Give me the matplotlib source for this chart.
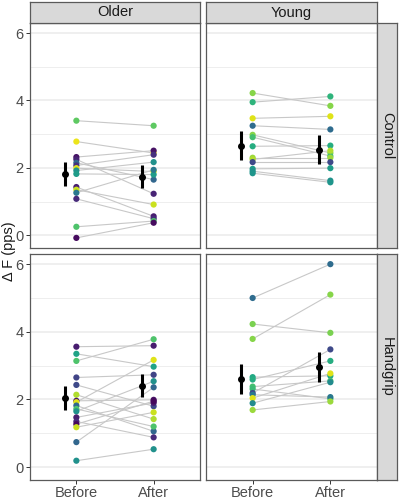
import matplotlib
matplotlib.use("Agg")
import matplotlib.pyplot as plt
import numpy as np

plt.rcParams['font.family'] = ['Liberation Sans', 'DejaVu Sans']

ages = ["Older", "Young"]
conditions = ["Control", "Handgrip"]
time_labels = ["Before", "After"]

# Older / Control
oc_before = [3.40, 2.78, 2.32, 2.25, 2.15, 2.07, 1.99, 1.92, 1.82, 1.43, 1.35, 1.26, 1.08, 0.25, -0.08]
oc_after  = [3.25, 2.44, 2.51, 1.23, 1.65, 2.39, 1.89, 2.17, 1.80, 0.56, 0.91, 1.94, 0.49, 0.42, 0.37]
oc_color  = [0.75, 0.97, 0.05, 0.10, 0.33, 0.14, 0.95, 0.50, 0.55, 0.08, 0.92, 0.40, 0.12, 0.72, 0.03]
# Young / Control
yc_before = [4.22, 3.95, 3.47, 3.25, 2.98, 2.91, 2.64, 2.30, 2.25, 2.17, 1.97, 1.90, 1.84]
yc_after  = [3.84, 4.12, 3.53, 3.14, 2.44, 2.35, 2.66, 2.30, 2.51, 2.17, 1.99, 1.62, 1.57]
yc_color  = [0.82, 0.65, 0.95, 0.35, 0.82, 0.70, 0.62, 0.85, 0.88, 0.22, 0.55, 0.50, 0.52]
# Older / Handgrip
oh_before = [3.56, 3.35, 3.14, 2.65, 2.43, 2.14, 1.96, 1.92, 1.82, 1.72, 1.65, 1.47, 1.35, 1.27, 1.18, 0.74, 0.19]
oh_after  = [3.59, 2.97, 3.78, 2.73, 1.80, 1.42, 1.99, 3.17, 1.06, 1.20, 2.54, 1.90, 0.88, 1.95, 1.62, 2.36, 0.53]
oh_color  = [0.08, 0.58, 0.72, 0.20, 0.22, 0.88, 0.05, 0.95, 0.33, 0.72, 0.50, 0.08, 0.12, 0.02, 0.92, 0.33, 0.50]
# Young / Handgrip
yh_before = [5.00, 4.23, 3.79, 2.66, 2.59, 2.38, 2.31, 2.19, 2.14, 2.04, 1.89, 1.69]
yh_after  = [6.00, 3.97, 5.10, 2.70, 3.14, 2.55, 2.02, 3.48, 2.07, 2.77, 2.51, 1.94]
yh_color  = [0.35, 0.80, 0.82, 0.60, 0.62, 0.70, 0.68, 0.22, 0.40, 0.95, 0.48, 0.85]

# group means and error bar half-widths (Before, After)
oc_mean = [1.82, 1.74]; oc_err = [0.35, 0.35]
yc_mean = [2.66, 2.54]; yc_err = [0.42, 0.44]
oh_mean = [2.04, 2.41]; oh_err = [0.36, 0.35]
yh_mean = [2.61, 2.96]; yh_err = [0.44, 0.43]

panels = {
    ("Older", "Control"): (oc_before, oc_after, oc_color, oc_mean, oc_err),
    ("Young", "Control"): (yc_before, yc_after, yc_color, yc_mean, yc_err),
    ("Older", "Handgrip"): (oh_before, oh_after, oh_color, oh_mean, oh_err),
    ("Young", "Handgrip"): (yh_before, yh_after, yh_color, yh_mean, yh_err),
}

W, H = 400, 499
fig = plt.figure(figsize=(W / 100, H / 100), dpi=100)

col_x = [(30, 200), (206, 377)]
row_y = [(23, 248), (254, 480)]
strip_top = (2, 23)
strip_right = (377, 397)
border = '#5a5a5a'
strip_fill = '#D9D9D9'
grid_c = '#EBEBEB'
cmap = plt.get_cmap('viridis')
FS = 10.5

def frac_box(x0, x1, y0, y1):
    return [x0 / W, 1 - y1 / H, (x1 - x0) / W, (y1 - y0) / H]

for ci, age in enumerate(ages):
    for ri, cond in enumerate(conditions):
        x0, x1 = col_x[ci]
        y0, y1 = row_y[ri]
        ax = fig.add_axes(frac_box(x0, x1, y0, y1))
        before, after, col, mean, err = panels[(age, cond)]
        ax.set_xlim(0.4, 2.6)
        ax.set_ylim(-0.38, 6.30)
        for yv in [1, 3, 5]:
            ax.axhline(yv, color=grid_c, lw=0.6, zorder=0)
        for yv in [0, 2, 4, 6]:
            ax.axhline(yv, color=grid_c, lw=1.1, zorder=0)
        for b, a in zip(before, after):
            ax.plot([1, 2], [b, a], color='#c8c8c8', lw=0.8, zorder=1)
        colors = [cmap(c) for c in col]
        ax.scatter([1] * len(before), before, s=20, c=colors, zorder=3, linewidths=0)
        ax.scatter([2] * len(after), after, s=20, c=colors, zorder=3, linewidths=0)
        ax.errorbar([1 - 0.15, 2 - 0.15], mean, yerr=err, fmt='o', color='black',
                    ms=4, elinewidth=2.2, capsize=0, zorder=4)
        for s in ax.spines.values():
            s.set_color(border)
            s.set_linewidth(0.9)
        ax.set_xticks([1, 2])
        ax.set_yticks([0, 2, 4, 6])
        ax.tick_params(colors='#333333', length=3, width=0.7, labelsize=FS,
                       labelcolor='#4D4D4D', pad=1.5)
        ax.tick_params(axis='x', pad=1)
        if ri == 1:
            ax.set_xticklabels(time_labels)
        else:
            ax.tick_params(axis='x', length=0, labelbottom=False)
        if ci == 0:
            ax.set_yticklabels(['0', '2', '4', '6'])
        else:
            ax.tick_params(axis='y', length=0, labelleft=False)

        if ri == 0:
            sax = fig.add_axes(frac_box(x0, x1, strip_top[0], strip_top[1]))
            sax.set_facecolor(strip_fill)
            sax.set_xticks([]); sax.set_yticks([])
            for s in sax.spines.values():
                s.set_color(border); s.set_linewidth(0.9)
            sax.text(0.5, 0.5, age, ha='center', va='center', fontsize=FS,
                     color='#1A1A1A', transform=sax.transAxes)
        if ci == 1:
            sax = fig.add_axes(frac_box(strip_right[0], strip_right[1], y0, y1))
            sax.set_facecolor(strip_fill)
            sax.set_xticks([]); sax.set_yticks([])
            for s in sax.spines.values():
                s.set_color(border); s.set_linewidth(0.9)
            sax.text(0.5, 0.5, cond, ha='center', va='center', fontsize=FS,
                     rotation=-90, color='#1A1A1A', transform=sax.transAxes)

fig.text(9 / W, 1 - 251 / H, 'Δ F (pps)', rotation=90, ha='center', va='center',
         fontsize=FS, color='#1A1A1A')

fig.savefig('out.png', dpi=100)
